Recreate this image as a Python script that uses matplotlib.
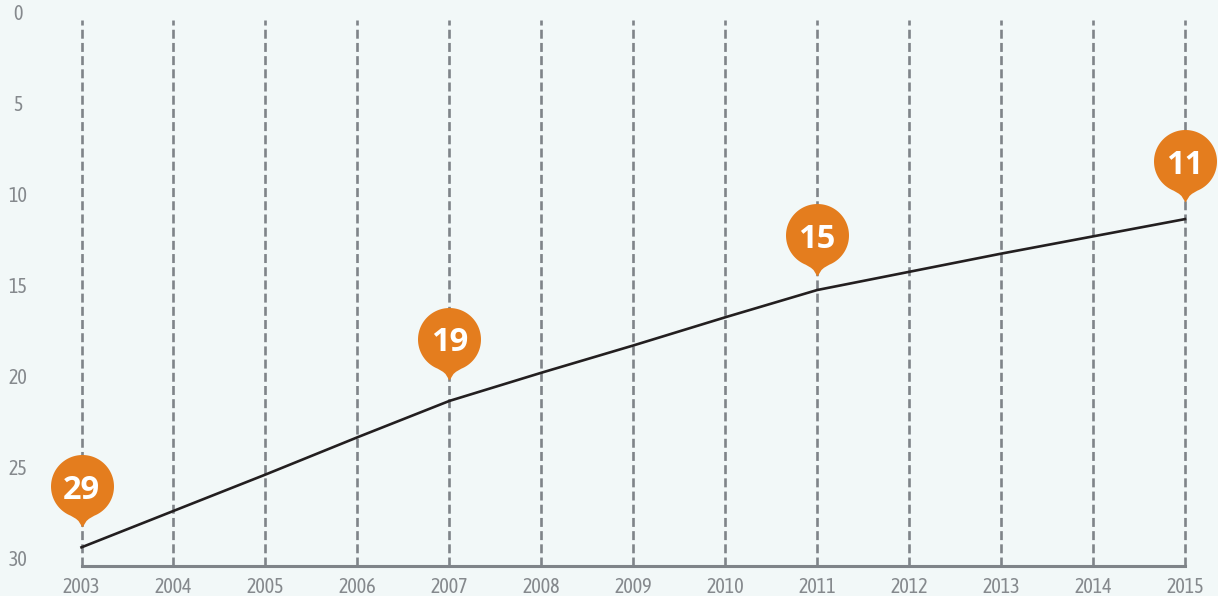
import matplotlib.pyplot as plt
from matplotlib.path import Path
from matplotlib.transforms import offset_copy
import numpy as np

# Data
years = [2003, 2004, 2005, 2006, 2007, 2008, 2009, 2010, 2011, 2012, 2013, 2014, 2015]
values = [29.0, 27.0, 25.0, 22.95, 20.95, 19.4, 17.9, 16.35, 14.85, 13.85, 12.85, 11.9, 10.95]
y_ticks = [0, 5, 10, 15, 20, 25, 30]

pin_years = [2003, 2007, 2011, 2015]
pin_values = [29.0, 20.95, 14.85, 10.95]
pin_labels = ['29', '19', '15', '11']
pin_gaps = [61, 62, 55, 58]  # px from line up to centre of the pin

BG = '#f2f8f8'
GREY = '#7f8489'
TICK = '#85898d'
ORANGE = '#e47d1e'
DPI = 100
W, H = 1218, 596

# Round pin with a small tip below it, centre at 0,0
def pinPath(r, tip):
    a = np.radians(np.linspace(-68, 248, 90))
    verts = [(r * np.cos(t), r * np.sin(t)) for t in a]
    verts += [(-6.5, -r - 0.8), (-4, -r - 3), (0, -tip), (4, -r - 3), (6.5, -r - 0.8)]
    verts.append(verts[0])
    return Path(verts, closed=True)

fig = plt.figure(figsize=(W / DPI, H / DPI), dpi=DPI, facecolor=BG)
left, right, top, bottom = 81.5, 1185, 20, 565.5
ax = fig.add_axes([left / W, 1 - bottom / H, (right - left) / W, (bottom - top) / H])
ax.set_facecolor(BG)
ax.set_xlim(2003, 2015)
ax.set_ylim(30, 0)

for s in ['top', 'left', 'right']:
    ax.spines[s].set_visible(False)
ax.spines['bottom'].set_color(GREY)
ax.spines['bottom'].set_linewidth(2.2)

ax.set_xticks(years)
ax.set_yticks(y_ticks)
ax.set_axisbelow(True)
ax.grid(axis='x', color=GREY, linewidth=1.9, dashes=(3.4, 1.6), clip_on=False)
ax.grid(axis='y', visible=False)

ax.tick_params(axis='x', length=0, pad=8, labelsize=14.5, labelcolor=TICK)
ax.tick_params(axis='y', length=0, pad=46, labelsize=14.5, labelcolor=TICK)
for lab in ax.get_xticklabels() + ax.get_yticklabels():
    lab.set_fontfamily(['Asap Condensed', 'Open Sans'])
for lab in ax.get_yticklabels():
    lab.set_ha('center')
    lab.set_va('baseline')

ax.plot(years, values, color='#231f20', linewidth=1.9, clip_on=False, zorder=3)

# Pins, sized in pixels and lifted off the line
pin = pinPath(31.5, 41)
for yr, val, txt, gap in zip(pin_years, pin_values, pin_labels, pin_gaps):
    tr = offset_copy(ax.transData, fig=fig, x=0, y=gap, units='dots')
    ax.plot([yr], [val], marker=pin, markersize=82 * 72 / DPI, color=ORANGE,
            markeredgewidth=0, linestyle='none', transform=tr, clip_on=False, zorder=4)
    ax.text(yr, val, txt, transform=tr, ha='center', va='center_baseline', color='white',
            fontsize=23.5, fontweight='bold', family='Open Sans', zorder=5, clip_on=False)

fig.savefig('out.png', dpi=DPI, facecolor=BG)
